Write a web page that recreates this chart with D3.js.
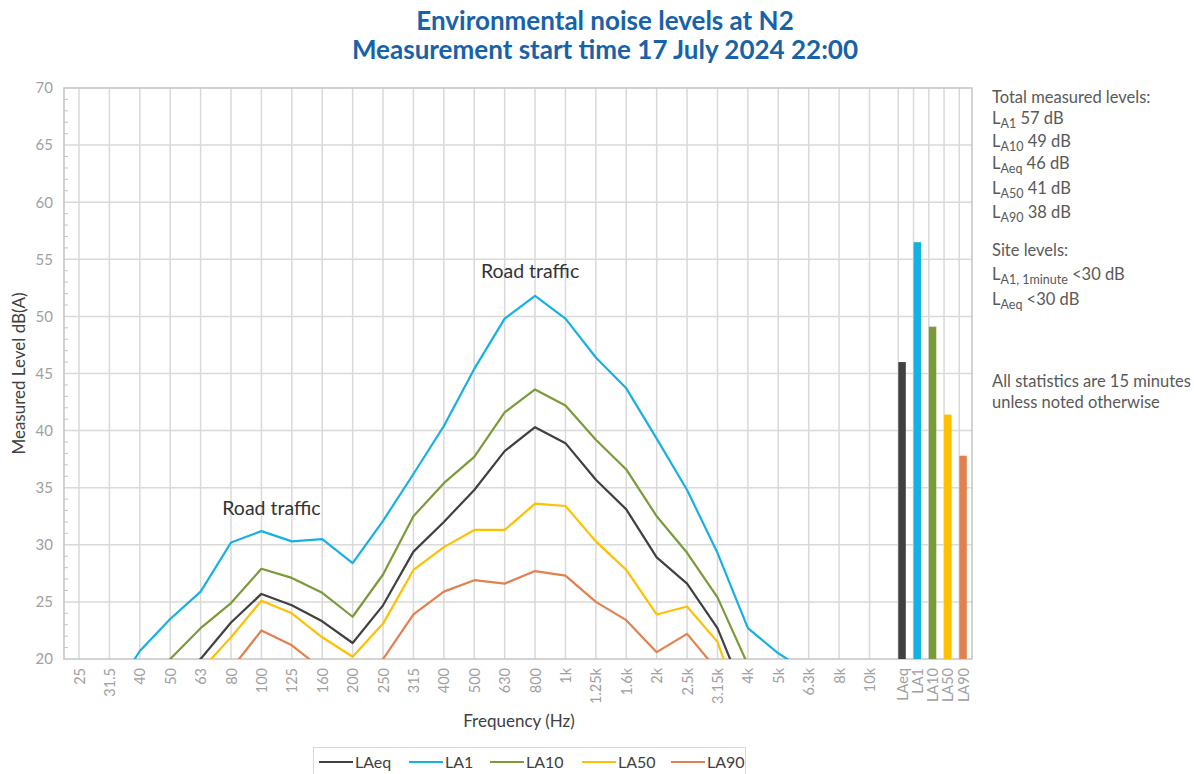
<!DOCTYPE html>
<html>
<head>
<meta charset="utf-8">
<script src="https://cdn.jsdelivr.net/npm/d3@7"></script>
<style>
  html, body { margin: 0; padding: 0; background: #fff; }
  svg { display: block; font-family: Lato, "Open Sans", sans-serif; }
</style>
</head>
<body>
<svg id="chart" width="1194" height="774"></svg>
<script>
// ---------------- DATA ----------------
const freqLabels = ["25","31.5","40","50","63","80","100","125","160","200","250","315","400","500","630","800","1k","1.25k","1.6k","2k","2.5k","3.15k","4k","5k","6.3k","8k","10k"];
const seriesNames = ["LAeq","LA1","LA10","LA50","LA90"];
const LAeq = [12, 14, 16, 18, 20.0, 23.2, 25.7, 24.7, 23.3, 21.4, 24.7, 29.4, 32.0, 34.8, 38.2, 40.3, 38.9, 35.7, 33.1, 28.9, 26.6, 22.7, 16.2, 13, 12, 11, 10];
const LA1  = [13, 16.5, 20.7, 23.5, 25.9, 30.2, 31.2, 30.3, 30.5, 28.4, 32.1, 36.2, 40.4, 45.4, 49.8, 51.8, 49.8, 46.4, 43.7, 39.3, 34.8, 29.3, 22.7, 20.5, 18.8, 16, 14];
const LA10 = [13, 15, 17, 20.0, 22.7, 24.9, 27.9, 27.1, 25.8, 23.7, 27.4, 32.5, 35.4, 37.7, 41.6, 43.6, 42.2, 39.2, 36.6, 32.5, 29.3, 25.4, 19.5, 16, 14, 12, 11];
const LA50 = [10, 12, 13, 15, 19.0, 21.9, 25.1, 24.0, 21.9, 20.2, 23.1, 27.8, 29.8, 31.3, 31.3, 33.6, 33.4, 30.3, 27.8, 23.9, 24.6, 21.5, 14, 11, 10, 9, 8];
const LA90 = [8, 10, 11, 13, 16, 19.1, 22.5, 21.2, 19.1, 17.0, 20.0, 23.9, 25.9, 26.9, 26.6, 27.7, 27.3, 25.0, 23.4, 20.6, 22.2, 19.0, 12, 9, 8, 7, 6];
const totalLabels = ["LAeq","LA1","LA10","LA50","LA90"];
const totalValues = [46.0, 56.5, 49.1, 41.4, 37.8];
const yTicks = [20, 25, 30, 35, 40, 45, 50, 55, 60, 65, 70];
const titleLines = ["Environmental noise levels at N2", "Measurement start time 17 July 2024 22:00"];
const totalsText = [["A1", " 57 dB"], ["A10", " 49 dB"], ["Aeq", " 46 dB"], ["A50", " 41 dB"], ["A90", " 38 dB"]];
const siteText = [["A1, 1minute", " <30 dB"], ["Aeq", " <30 dB"]];
const noteText = ["All statistics are 15 minutes", "unless noted otherwise"];
const annotations = [{text: "Road traffic", cat: "100", value: 32.6}, {text: "Road traffic", cat: "800", value: 53.4}];

// ---------------- STYLE / LAYOUT ----------------
const colors = {LAeq: "#404040", LA1: "#17b0e3", LA10: "#7b9a3a", LA50: "#ffc000", LA90: "#e2804f"};
const seriesData = {LAeq, LA1, LA10, LA50, LA90};
const plot = {left: 64, right: 972, top: 88, bottom: 659};
const gridColor = "#d9d9d9";
const borderColor = "#c4c4c4";
const tickColor = "#a0a0a0";
const textColor = "#404040";
const annOffsets = [10, -5];

const svg = d3.select("#chart");

const x = d3.scalePoint().domain(freqLabels).range([79, 869.5]);
const xb = d3.scalePoint().domain(totalLabels).range([898.3, 959.3]);
const barW = 7.5;
const y = d3.scaleLinear().domain([20, 70]).range([plot.bottom, plot.top]);

// clip
svg.append("defs").append("clipPath").attr("id", "clip")
  .append("rect").attr("x", plot.left).attr("y", plot.top)
  .attr("width", plot.right - plot.left).attr("height", plot.bottom - plot.top);

// horizontal gridlines
const gGrid = svg.append("g");
gGrid.selectAll("line.h").data(yTicks.filter(t => t > 20 && t < 70)).join("line")
  .attr("x1", plot.left).attr("x2", plot.right)
  .attr("y1", d => y(d)).attr("y2", d => y(d))
  .attr("stroke", gridColor).attr("stroke-width", 1.5);
// vertical gridlines
gGrid.selectAll("line.v").data(freqLabels).join("line")
  .attr("x1", d => x(d)).attr("x2", d => x(d))
  .attr("y1", plot.top).attr("y2", plot.bottom)
  .attr("stroke", gridColor).attr("stroke-width", 1.5);
gGrid.selectAll("line.vb").data(totalLabels).join("line")
  .attr("x1", d => xb(d)).attr("x2", d => xb(d))
  .attr("y1", plot.top).attr("y2", plot.bottom)
  .attr("stroke", gridColor).attr("stroke-width", 1.5);

// border
svg.append("rect").attr("x", plot.left).attr("y", plot.top)
  .attr("width", plot.right - plot.left).attr("height", plot.bottom - plot.top)
  .attr("fill", "none").attr("stroke", borderColor).attr("stroke-width", 1.5);

// minor ticks on y axis (inward)
const minor = d3.range(21, 70).filter(v => v % 5 !== 0);
svg.append("g").selectAll("line").data(minor).join("line")
  .attr("x1", plot.left).attr("x2", plot.left + 4)
  .attr("y1", d => y(d)).attr("y2", d => y(d))
  .attr("stroke", borderColor).attr("stroke-width", 1);

// y axis using d3.axisLeft
const yAxis = svg.append("g").attr("transform", `translate(${plot.left},0)`)
  .call(d3.axisLeft(y).tickValues(yTicks).tickSize(0).tickPadding(11));
yAxis.select(".domain").remove();
yAxis.selectAll("text").attr("fill", tickColor).style("font-size", "15px")
  .style("font-family", "Lato, 'Open Sans', sans-serif");

// x axis labels (rotated)
function styleRot(sel) {
  sel.selectAll("text")
    .attr("transform", "rotate(-90)")
    .attr("x", -9).attr("y", 0).attr("dy", "0.35em")
    .attr("text-anchor", "end")
    .attr("fill", tickColor).style("font-size", "14.5px")
    .style("font-family", "Lato, 'Open Sans', sans-serif");
}
const xAxis = svg.append("g").attr("transform", `translate(0,${plot.bottom})`)
  .call(d3.axisBottom(x).tickSize(0));
xAxis.select(".domain").remove();
styleRot(xAxis);

const xbAxis = svg.append("g").attr("transform", `translate(${barW / 2},${plot.bottom})`)
  .call(d3.axisBottom(xb).tickSize(0));
xbAxis.select(".domain").remove();
styleRot(xbAxis);

// lines
const line = d3.line().x((d, i) => x(freqLabels[i])).y(d => y(d));
const gLines = svg.append("g").attr("clip-path", "url(#clip)");
["LA90","LA50","LA10","LA1","LAeq"].forEach(name => {
  gLines.append("path").datum(seriesData[name])
    .attr("d", line).attr("fill", "none")
    .attr("stroke", colors[name]).attr("stroke-width", 2.2)
    .attr("stroke-linejoin", "round");
});

// bars
svg.append("g").selectAll("rect").data(totalLabels).join("rect")
  .attr("x", d => xb(d))
  .attr("width", barW)
  .attr("y", (d, i) => y(totalValues[i]))
  .attr("height", (d, i) => y(20) - y(totalValues[i]))
  .attr("fill", d => colors[d]);

// annotations
svg.append("g").selectAll("text").data(annotations).join("text")
  .attr("x", (d, i) => x(d.cat) + annOffsets[i])
  .attr("y", d => y(d.value))
  .attr("text-anchor", "middle")
  .attr("fill", "#333")
  .style("font-size", "19.5px")
  .text(d => d.text);

// title
svg.append("g").selectAll("text").data(titleLines).join("text")
  .attr("x", 605).attr("y", (d, i) => 30 + i * 29)
  .attr("text-anchor", "middle")
  .attr("fill", "#1762a8")
  .style("font-size", "26px").style("font-weight", "bold")
  .text(d => d);

// axis titles
svg.append("text")
  .attr("transform", `translate(25,${(plot.top + plot.bottom) / 2}) rotate(-90)`)
  .attr("text-anchor", "middle").attr("fill", textColor)
  .style("font-size", "17px").text("Measured Level dB(A)");
svg.append("text")
  .attr("x", 519).attr("y", 727)
  .attr("text-anchor", "middle").attr("fill", textColor)
  .style("font-size", "17px").text("Frequency (Hz)");

// legend
const legend = svg.append("g");
legend.append("rect").attr("x", 313.5).attr("y", 747.5).attr("width", 432).attr("height", 40)
  .attr("fill", "#fff").attr("stroke", "#d9d9d9").attr("stroke-width", 1);
const legendX = [319, 409, 490, 582, 671];
seriesNames.forEach((name, i) => {
  legend.append("line").attr("x1", legendX[i]).attr("x2", legendX[i] + 34)
    .attr("y1", 762).attr("y2", 762)
    .attr("stroke", colors[name]).attr("stroke-width", 2.2);
  legend.append("text").attr("x", legendX[i] + 36).attr("y", 767.5)
    .attr("fill", textColor).style("font-size", "16px").text(name);
});

// right-side text
const side = svg.append("g").attr("fill", "#595959").style("font-size", "16.5px");
const sx = 992;
side.append("text").attr("x", sx).attr("y", 103).text("Total measured levels:");
function subLine(yPos, sub, rest) {
  const t = side.append("text").attr("x", sx).attr("y", yPos);
  t.append("tspan").text("L");
  t.append("tspan").attr("dy", 4).style("font-size", "12.5px").text(sub);
  t.append("tspan").attr("dy", -4).text(rest);
}
const totalsY = [124, 147, 169, 194, 218];
totalsText.forEach((d, i) => subLine(totalsY[i], d[0], d[1]));
side.append("text").attr("x", sx).attr("y", 256).text("Site levels:");
const siteY = [280, 305];
siteText.forEach((d, i) => subLine(siteY[i], d[0], d[1]));
noteText.forEach((d, i) => side.append("text").attr("x", sx).attr("y", 387 + i * 21).text(d));
</script>
</body>
</html>
